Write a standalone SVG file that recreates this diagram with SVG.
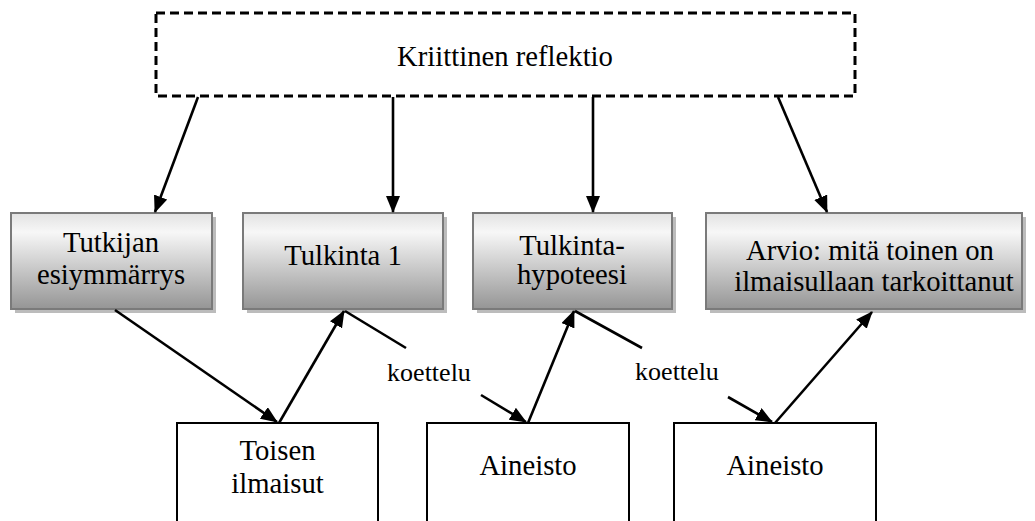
<svg xmlns="http://www.w3.org/2000/svg" width="1035" height="521" viewBox="0 0 1035 521">
  <defs>
    <linearGradient id="shade" x1="0" y1="0" x2="0" y2="1">
      <stop offset="0" stop-color="#e2e2e2"/>
      <stop offset="0.2" stop-color="#f7f7f7"/>
      <stop offset="1" stop-color="#959595"/>
    </linearGradient>
    <marker id="head" markerWidth="17" markerHeight="14" refX="16" refY="7" orient="auto" markerUnits="userSpaceOnUse">
      <path d="M0,0 L17,7 L0,14 Z" fill="#000"/>
    </marker>
  </defs>
  <style>
    .shadow { fill: #bcbcbc; }
    .grad { fill: url(#shade); stroke: #7a7a7a; stroke-width: 2; }
    .plain { fill: #fff; stroke: #000; stroke-width: 2; }
    .dash { fill: #fff; stroke: #000; stroke-width: 3; stroke-dasharray: 9 5; }
    .conn line { stroke: #000; stroke-width: 2.6; }
    .arrow { marker-end: url(#head); }
    .t { font-family: "Liberation Serif", "Times New Roman", "DejaVu Serif", serif; font-size: 28.7px; text-anchor: middle; fill: #000; }
    .lbl { font-size: 26px; }
  </style>

  <rect width="1035" height="521" fill="#fff"/>

  <!-- top frame -->
  <g id="kriittinen-reflektio">
    <rect class="dash" x="156" y="13" width="699" height="83"/>
    <text class="t" x="505" y="66">Kriittinen reflektio</text>
  </g>

  <!-- shaded middle row -->
  <g id="tutkijan-esiymmarrys">
    <rect class="shadow" x="15" y="217" width="201" height="96"/>
    <rect class="grad" x="11" y="213" width="201" height="96"/>
    <text class="t" x="111" y="252">Tutkijan</text>
    <text class="t" x="111" y="284">esiymmärrys</text>
  </g>
  <g id="tulkinta-1">
    <rect class="shadow" x="247" y="217" width="200" height="96"/>
    <rect class="grad" x="243" y="213" width="200" height="96"/>
    <text class="t" x="343" y="265">Tulkinta 1</text>
  </g>
  <g id="tulkintahypoteesi">
    <rect class="shadow" x="477" y="217" width="199" height="96"/>
    <rect class="grad" x="473" y="213" width="199" height="96"/>
    <text class="t" x="572" y="255">Tulkinta-</text>
    <text class="t" x="572" y="284">hypoteesi</text>
  </g>
  <g id="arvio">
    <rect class="shadow" x="710" y="217" width="316" height="96"/>
    <rect class="grad" x="706" y="213" width="316" height="96"/>
    <text class="t" x="870" y="260">Arvio: mitä toinen on</text>
    <text class="t" x="874" y="291">ilmaisullaan tarkoittanut</text>
  </g>

  <!-- plain bottom row -->
  <g id="toisen-ilmaisut">
    <rect class="plain" x="177" y="423" width="201" height="120"/>
    <text class="t" x="277.5" y="460">Toisen</text>
    <text class="t" x="277.5" y="493">ilmaisut</text>
  </g>
  <g id="aineisto-1">
    <rect class="plain" x="427" y="423" width="202" height="120"/>
    <text class="t" x="528" y="475">Aineisto</text>
  </g>
  <g id="aineisto-2">
    <rect class="plain" x="674" y="423" width="202" height="120"/>
    <text class="t" x="775" y="475">Aineisto</text>
  </g>

  <!-- connectors -->
  <g id="connectors" class="conn">
    <line class="arrow" x1="198" y1="97" x2="155" y2="212"/>
    <line class="arrow" x1="393" y1="97" x2="393" y2="212"/>
    <line class="arrow" x1="593" y1="97" x2="593" y2="212"/>
    <line class="arrow" x1="778" y1="97" x2="827" y2="212"/>

    <line class="arrow" x1="115" y1="310" x2="277" y2="422"/>
    <line class="arrow" x1="279" y1="423" x2="344" y2="311"/>
    <line x1="345" y1="311" x2="406" y2="348"/>
    <line class="arrow" x1="481" y1="395" x2="526" y2="422"/>
    <line class="arrow" x1="528" y1="423" x2="574" y2="311"/>
    <line x1="575" y1="311" x2="642" y2="348"/>
    <line class="arrow" x1="728" y1="397" x2="772" y2="422"/>
    <line class="arrow" x1="775" y1="423" x2="872" y2="312"/>

    <text class="t lbl" x="429" y="381">koettelu</text>
    <text class="t lbl" x="677" y="380">koettelu</text>
  </g>
</svg>
